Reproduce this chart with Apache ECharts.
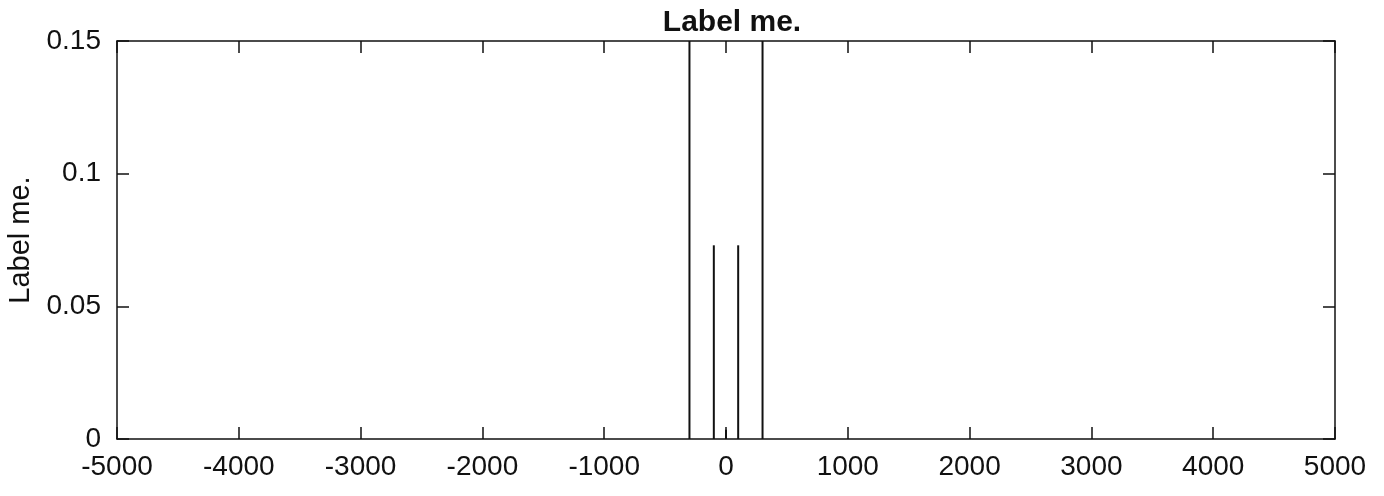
<!DOCTYPE html>
<html>
<head>
<meta charset="utf-8">
<style>
  html, body { margin: 0; padding: 0; background: #fff; }
  #chart { width: 1384px; height: 496px; }
</style>
<script src="https://cdn.jsdelivr.net/npm/echarts@6/dist/echarts.min.js"></script>
</head>
<body>
<div id="chart"></div>
<script>
// impulse positions and heights
var positions = [-300, -100, 0, 100, 300];
var heights = [0.15, 0.073, 0.0035, 0.073, 0.15];

var xTicks = [-5000, 5000, 1000];
var yTicks = [0, 0.15, 0.05];

var font = 'Liberation Sans, Arial, sans-serif';
var ink = '#111';

var data = positions.map(function (p, i) { return [p, heights[i]]; });

function plain(v) { return String(v); }

function xAxis(pos, showLabels) {
  return {
    type: 'value', position: pos,
    min: xTicks[0], max: xTicks[1], interval: xTicks[2],
    axisLine: { show: true, onZero: false, lineStyle: { color: ink, width: 1.5 } },
    axisTick: { show: true, inside: true, length: 12, lineStyle: { color: ink, width: 1.5 } },
    axisLabel: { show: showLabels, color: ink, fontSize: 28, fontFamily: font, margin: 14, formatter: plain },
    splitLine: { show: false }
  };
}

function yAxis(pos, showLabels) {
  return {
    type: 'value', position: pos,
    min: yTicks[0], max: yTicks[1], interval: yTicks[2],
    name: showLabels ? 'Label me.' : '',
    nameLocation: 'middle', nameGap: 80, nameRotate: 90,
    nameTextStyle: { color: ink, fontSize: 29, fontFamily: font },
    axisLine: { show: true, onZero: false, lineStyle: { color: ink, width: 1.5 } },
    axisTick: { show: true, inside: true, length: 12, lineStyle: { color: ink, width: 1.5 } },
    axisLabel: { show: showLabels, color: ink, fontSize: 28, fontFamily: font, margin: 16, formatter: plain },
    splitLine: { show: false }
  };
}

var chart = echarts.init(document.getElementById('chart'));
chart.setOption({
  backgroundColor: '#fff',
  animation: false,
  title: {
    text: 'Label me.',
    left: 727, top: 3, textAlign: 'center',
    textStyle: { color: ink, fontSize: 30, fontWeight: 'bold', fontFamily: font }
  },
  grid: { left: 117, right: 49, top: 41, bottom: 57, containLabel: false, outerBoundsMode: 'none' },
  xAxis: [xAxis('bottom', true), xAxis('top', false)],
  yAxis: [yAxis('left', true), yAxis('right', false)],
  series: [{
    type: 'bar',
    xAxisIndex: 0, yAxisIndex: 0,
    barWidth: 2,
    itemStyle: { color: ink },
    data: data
  }]
});
</script>
</body>
</html>
